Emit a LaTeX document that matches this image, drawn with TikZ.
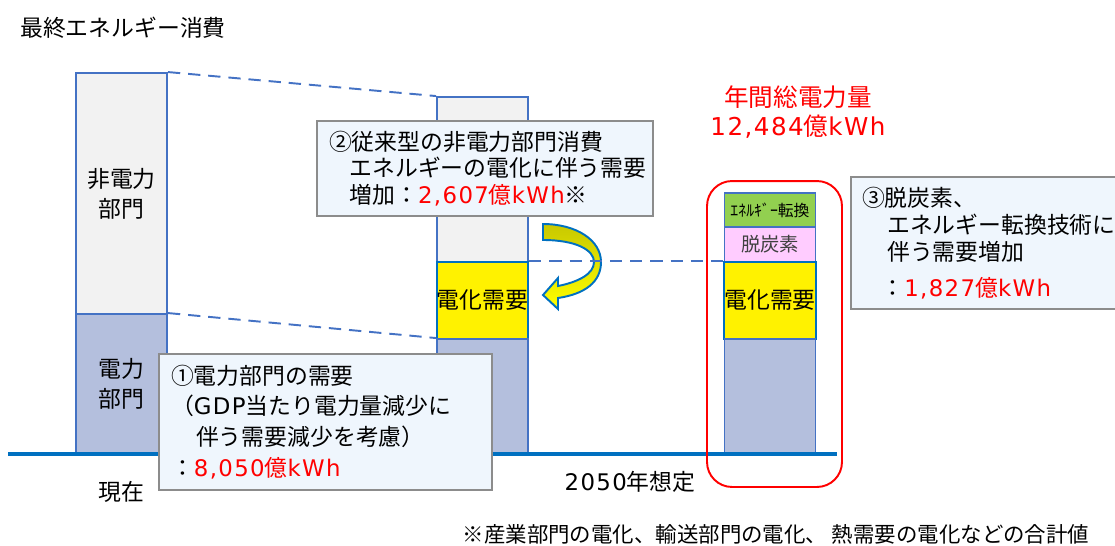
\documentclass[tikz,border=0pt]{standalone}
\usepackage{fontspec}
\setmainfont{Noto Sans CJK JP}
\newfontfamily\lat{DejaVu Sans}[LetterSpace=6]
\usetikzlibrary{calc}

\definecolor{barblue}{HTML}{4472C4}
\definecolor{lineblue}{HTML}{0070C0}
\definecolor{greyfill}{HTML}{F2F2F2}
\definecolor{elecfill}{HTML}{B4BFDD}
\definecolor{boxfill}{HTML}{EFF6FD}
\definecolor{boxgrey}{HTML}{8C8C8C}
\definecolor{convgreen}{HTML}{92D050}
\definecolor{decpink}{HTML}{FFCCFF}
\definecolor{arrowolive}{HTML}{C8C800}

\begin{document}
\begin{tikzpicture}[x=0.02cm, y=-0.02cm,
    block/.style={draw=barblue, line width=1.1pt, minimum width=1.82cm, inner sep=0pt,
        align=center, font=\fontsize{13}{17}\selectfont},
    yellowblock/.style={block, draw=lineblue, fill=yellow},
    callout/.style={draw=boxgrey, line width=0.85pt, fill=boxfill, align=left, inner ysep=0pt},
    dashline/.style={draw=barblue, line width=1.1pt, dash pattern=on 7pt off 4.5pt},
    groundline/.style={draw=lineblue, line width=2.3pt},
    plain/.style={font=\fontsize{13}{15}\selectfont}]
    \useasboundingbox (0,0) rectangle (1115,545);

    % Title
    \node[plain] (title) at (123,28) {最終エネルギー消費};

    % Present bar
    \node[block, fill=greyfill, minimum height=4.82cm] (lnon) at (121.5,193.5) {非電力\\部門};
    \node[block, fill=elecfill, minimum height=2.8cm] (lele) at (121.5,384) {電力\\部門};

    % 2050 bar in the middle
    \node[block, fill=greyfill, minimum height=3.3cm] (mnon) at (482.5,179.5) {};
    \node[yellowblock, minimum height=1.54cm] (mel) at (482.5,300.5) {電化需要};
    \node[block, fill=elecfill, minimum height=2.3cm] (mbase) at (482.5,396.5) {};

    % 2050 bar on the right
    \node[block, fill=convgreen, minimum height=0.68cm, font=\fontsize{9}{10}\selectfont] (rconv) at (770,210) {ｴﾈﾙｷﾞｰ転換};
    \node[block, fill=decpink, minimum height=0.7cm, font=\fontsize{11}{12}\selectfont, text=black!75] (rdec) at (770,244.5) {脱炭素};
    \node[yellowblock, minimum height=1.54cm] (rel) at (770,300.5) {電化需要};
    \node[block, fill=elecfill, minimum height=2.3cm] (rbase) at (770,396.5) {};

    % The dashed guides
    \draw[dashline] (lnon.north east) -- (mnon.north west);
    \draw[dashline] (lele.north east) -- (mbase.north west);

    % Curved arrow
    \shadedraw[draw=lineblue, line width=1.1pt, top color=arrowolive, middle color=yellow, bottom color=yellow]
        (543,224) .. controls (576,224) and (601,240) .. (601,262)
        .. controls (601,282) and (585,294) .. (558,298)
        -- (558,309) -- (543,295) -- (558,278) -- (558,286)
        .. controls (578,282) and (594,274) .. (594,262)
        .. controls (594,250) and (576,240) .. (543,240) -- cycle;
    \draw[dashline] (mel.north east) -- (rel.north west);

    % Ground line
    \coordinate (g0) at (8,454);
    \coordinate (g1) at (837,454);
    \draw[groundline] (g0) -- (g1);

    % Red frame and total
    \node[draw=red, line width=1.1pt, rounded corners=0.5cm, minimum width=2.7cm, minimum height=6.12cm] (frame) at (774.5,334) {};
    \node[text=red, align=center, font=\fontsize{14}{16.4}\selectfont] (total) at (798,112) {年間総電力量\\{\lat 12,484}億{\lat kWh}};

    % Callouts
    \node[callout, plain, inner xsep=0.24cm, text width=6.24cm, minimum height=1.9cm] (c2) at (485,168.5)
        {②従来型の非電力部門消費\\\hspace*{0.9em}エネルギーの電化に伴う需要\\\hspace*{0.9em}増加：{\color{red}\lat 2,607}{\color{red}億\lat kWh}※};
    \node[callout, inner xsep=0.24cm, text width=6.18cm, minimum height=2.72cm, font=\fontsize{13}{17.5}\selectfont] (c1) at (325.5,422)
        {①電力部門の需要\\（{\lat GDP}当たり電力量減少に\\\hspace*{1.1em}伴う需要減少を考慮）\\：{\color{red}\lat 8,050}{\color{red}億\lat kWh}};
    \node[callout, inner xsep=0.22cm, text width=5.24cm, minimum height=2.64cm, font=\fontsize{13}{15.3}\selectfont] (c3) at (993,243)
        {③脱炭素、\\\hspace*{1.1em}エネルギー転換技術に\\\hspace*{1.1em}伴う需要増加\\[5pt]\hspace*{0.85em}：{\color{red}\lat 1,827}{\color{red}億\lat kWh}};

    % Axis labels and note
    \node[plain] (now) at (121,492) {現在};
    \node[plain] (y2050) at (630,482) {{\lat 2050}年想定};
    \node[font=\fontsize{12.2}{14}\selectfont] (note) at (776,534) {※産業部門の電化、輸送部門の電化、 熱需要の電化などの合計値};
\end{tikzpicture}
\end{document}
